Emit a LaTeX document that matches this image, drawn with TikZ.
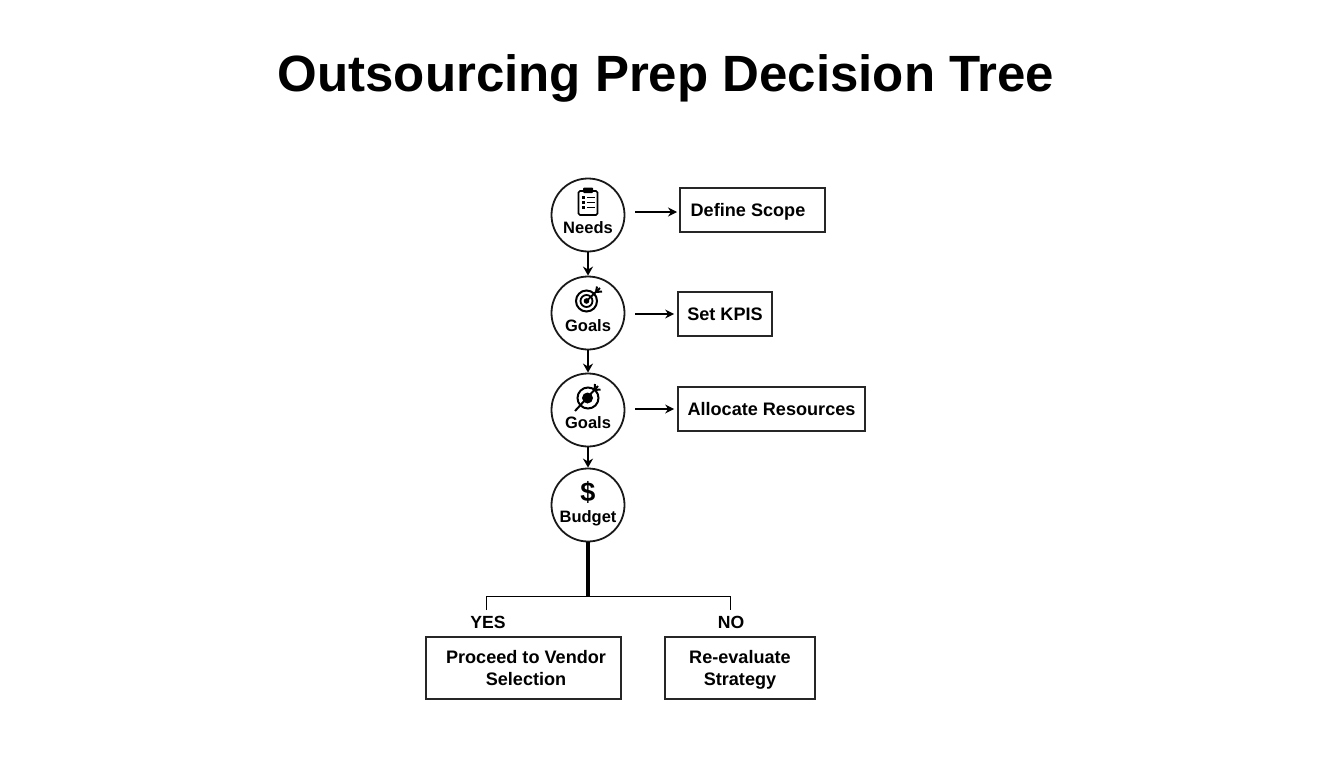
\documentclass[tikz,border=0pt]{standalone}
\usepackage{fontspec}
\setmainfont{Liberation Sans}
\usetikzlibrary{arrows.meta}
\tikzset{
  x=1pt,y=-1pt,
  circ/.style={draw=black!90,line width=1.8pt,circle,minimum size=73pt,inner sep=0pt,fill=white},
  box/.style={draw=black!85,line width=1.7pt,inner sep=0pt,align=center,text depth=0pt,font=\fontsize{18.1}{22.7}\selectfont\bfseries},
  lab/.style={font=\fontsize{16.5}{20}\selectfont\bfseries,inner sep=0pt},
  ans/.style={font=\fontsize{17.6}{22}\selectfont\bfseries,inner sep=0pt},
  side/.style={line width=1.6pt,-{Stealth[length=9pt,width=9pt]},shorten <=10pt,shorten >=3pt},
  down/.style={line width=1.9pt,-{Stealth[length=9pt,width=10pt]}},
  icon/.style={line width=1.6pt,black}
}
\begin{document}
\begin{tikzpicture}
\useasboundingbox (0,0) rectangle (1344,768);
\node[font=\fontsize{51}{60}\selectfont\bfseries,inner sep=0pt] (title) at (666,78) {Outsourcing Prep Decision Tree};
\node[circ] (n1) at (588,215) {};
\node[circ] (n2) at (588,313) {};
\node[circ] (n3) at (588,410) {};
\node[circ] (n4) at (588,505) {};
\node[lab] (l1) at (588,228) {Needs};
\node[lab] (l2) at (588,326) {Goals};
\node[lab] (l3) at (588,423) {Goals};
\node[lab] (l4) at (588,518.5) {Budget};
\node[font=\fontsize{27}{30}\selectfont\bfseries,inner sep=0pt] (dollar) at (588,492) {\$};
\node[box,minimum width=145pt,minimum height=44pt] (b1) at (752.5,210) {Define Scope\hspace*{9pt}};
\node[box,minimum width=94pt,minimum height=44pt] (b2) at (725,314) {Set KPIS};
\node[box,minimum width=187pt,minimum height=44pt] (b3) at (771.5,409) {Allocate Resources};
\node[box,minimum width=195pt,minimum height=62pt] (b4) at (523.5,668) {\hspace*{5pt}Proceed to Vendor\\\hspace*{5pt}Selection};
\node[box,minimum width=150pt,minimum height=62pt] (b5) at (740,668) {Re-evaluate\\Strategy};
\node[ans] (yes) at (488,622) {YES};
\node[ans] (no) at (731,622) {NO};
\coordinate (j) at (588,596.5);
\coordinate (jl) at (486.5,596.5);
\coordinate (jr) at (730.5,596.5);
\coordinate (el) at (486.5,610);
\coordinate (er) at (730.5,610);
\coordinate (t1) at (680,212);
\draw[down] (n1) -- (n2);
\draw[down] (n2) -- (n3);
\draw[down] (n3) -- (n4);
\draw[side] (n1.east |- t1) -- (t1);
\draw[side] (n2.east |- b2) -- (b2.west);
\draw[side] (n3.east |- b3) -- (b3.west);
\draw[line width=3.6pt] (n4) -- (j);
\draw[line width=1.8pt] (el) -- (jl) -- (jr) -- (er);
% clipboard
\begin{scope}[icon]
\draw[rounded corners=1.5pt] (578.5,191) rectangle (597.5,215);
\fill[rounded corners=1pt] (583,187.5) rectangle (593,193);
\foreach \y in {197.5,202.5,207.5}{
  \fill (581.5,\y-1.1) rectangle (584.5,\y+1.1);
  \draw (586.5,\y) -- (594.5,\y);
}
\end{scope}
% target 1
\begin{scope}[icon]
\draw[line width=2pt] (586.5,301) circle (10.5pt);
\draw[line width=1.8pt] (586.5,301) circle (6pt);
\fill (586.5,301) circle (2.8pt);
\draw[line width=1.9pt] (586.5,301) -- (600,288);
\draw[line width=2pt] (597,286.5) -- (596,292) -- (602,291.5);
\end{scope}
% target 2
\begin{scope}[icon]
\draw[line width=2pt] (588,398) circle (10.5pt);
\fill (587.5,398) circle (5.5pt);
\draw[line width=2pt] (575,411) -- (598,386);
\draw[line width=2pt] (595,384) -- (594.5,390) -- (600.5,389.5);
\end{scope}
\end{tikzpicture}
\end{document}
